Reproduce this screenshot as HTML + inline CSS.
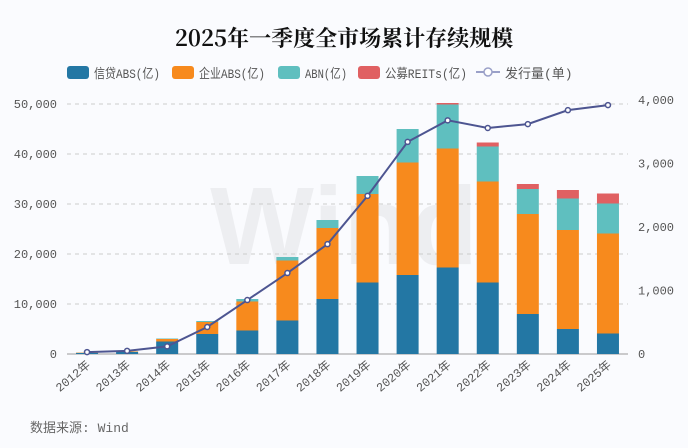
<!DOCTYPE html>
<html><head><meta charset="utf-8"><style>
body{margin:0;background:#fafbfe;}
svg{display:block;font-family:"Liberation Mono","Noto Sans CJK SC",monospace;}
</style></head><body>
<svg id="c" width="688" height="448" xmlns="http://www.w3.org/2000/svg">
<rect width="688" height="448" fill="#fafbfe"/>
<text x="344" y="264" text-anchor="middle" font-size="110" font-weight="bold" fill="#000" fill-opacity="0.05" font-family="Liberation Sans, sans-serif">Wind</text>
<text x="344" y="46" text-anchor="middle" font-size="22" font-weight="bold" fill="#111" font-family="Noto Serif CJK SC, serif">2025年一季度全市场累计存续规模</text>
<g id="legend"></g>
<g id="grid"></g><g id="bars"></g><g id="line"></g><g id="axes"></g>
<text x="30" y="432" font-size="13" fill="#666">数据来源: Wind</text>
</svg>
<script>
const categories=["2012年","2013年","2014年","2015年","2016年","2017年","2018年","2019年","2020年","2021年","2022年","2023年","2024年","2025年"];
const credit=[200,400,2500,4000,4700,6700,11000,14300,15800,17300,14300,8000,5000,4100];
const corp=[80,100,500,2400,5800,12000,14200,17700,22500,23800,20200,20000,19800,20000];
const abn=[20,30,100,200,500,700,1600,3600,6700,8800,7000,5000,6300,6000];
const reits=[0,0,0,0,0,0,0,0,0,300,800,1000,1700,2000];
const counts=[30,50,120,425,850,1275,1730,2490,3340,3680,3560,3620,3840,3920];
const leftTicks=[0,10000,20000,30000,40000,50000];
const rightTicks=[0,1000,2000,3000,4000];
const names=["信贷ABS(亿)","企业ABS(亿)","ABN(亿)","公募REITs(亿)"];
const colors=["#2377a4","#f78a1d","#5fbfbf","#e06062"];
const NS="http://www.w3.org/2000/svg";
const x0=67,x1=628,y0=354;
const xc=i=>x0+(x1-x0)/categories.length*(i+0.5);
const yl=v=>y0-v/50000*250;
const yr=v=>y0-v/4000*254;
function mk(p,tag,a){const e=document.createElementNS(NS,tag);for(const k in a)e.setAttribute(k,a[k]);document.getElementById(p).appendChild(e);return e;}
leftTicks.forEach(t=>{
 const g=mk('grid','line',{x1:x0,x2:x1,y1:yl(t),y2:yl(t),stroke:t?'#ccc':'#999','stroke-dasharray':t?'4,4':'0'});
 
 
 const l=mk('axes','text',{x:57,y:yl(t)+4,'text-anchor':'end','font-size':12,fill:'#555'});
 l.textContent=t.toLocaleString('en-US');
 
 
});
rightTicks.forEach(t=>{
 const l=mk('axes','text',{x:638,y:yr(t)+4,'font-size':12,fill:'#555'});
 l.textContent=t.toLocaleString('en-US');
 
 
});
const series=[credit,corp,abn,reits];
categories.forEach((c,i)=>{
 let acc=0;
 series.forEach((s,k)=>{
  const v=s[i];if(!v)return;
  const r=mk('bars','rect',{x:xc(i)-11,y:yl(acc+v),width:22,height:yl(acc)-yl(acc+v),fill:colors[k]});
  
  
  acc+=v;
 });
 const t=mk('axes','text',{x:xc(i)+4,y:366,'text-anchor':'end','font-size':12,fill:'#555',transform:`rotate(-40 ${xc(i)+4} 366)`});
 t.textContent=c;
 
 
});
const pl=mk('line','polyline',{points:counts.map((v,i)=>xc(i)+','+yr(v)).join(' '),fill:'none',stroke:'#4d5591','stroke-width':2});


counts.forEach((v,i)=>{
 const p=mk('line','circle',{cx:xc(i),cy:yr(v),r:2.5,fill:'#fff',stroke:'#4d5591','stroke-width':1.5});
 
 
});
let lx=67;
names.forEach((n,k)=>{
 const r=mk('legend','rect',{x:lx,y:66,width:22,height:13,rx:3,fill:colors[k]});
 
 
 const t=mk('legend','text',{x:lx+27,y:78,'font-size':13,fill:'#555',textLength:[66,66,42,82][k],lengthAdjust:'spacingAndGlyphs'});
 t.textContent=n;
 
 
 lx+=[105,106,80,116][k];
});
const ll=mk('legend','line',{x1:lx+2,x2:lx+26,y1:72,y2:72,stroke:'#9aa0c8','stroke-width':2});


const lc=mk('legend','circle',{cx:lx+14,cy:72,r:4,fill:'#fff',stroke:'#9aa0c8','stroke-width':1.5});


const lt=mk('legend','text',{x:lx+31,y:78,'font-size':13,fill:'#555'});
lt.textContent="发行量(单)";


</script>
</body></html>
